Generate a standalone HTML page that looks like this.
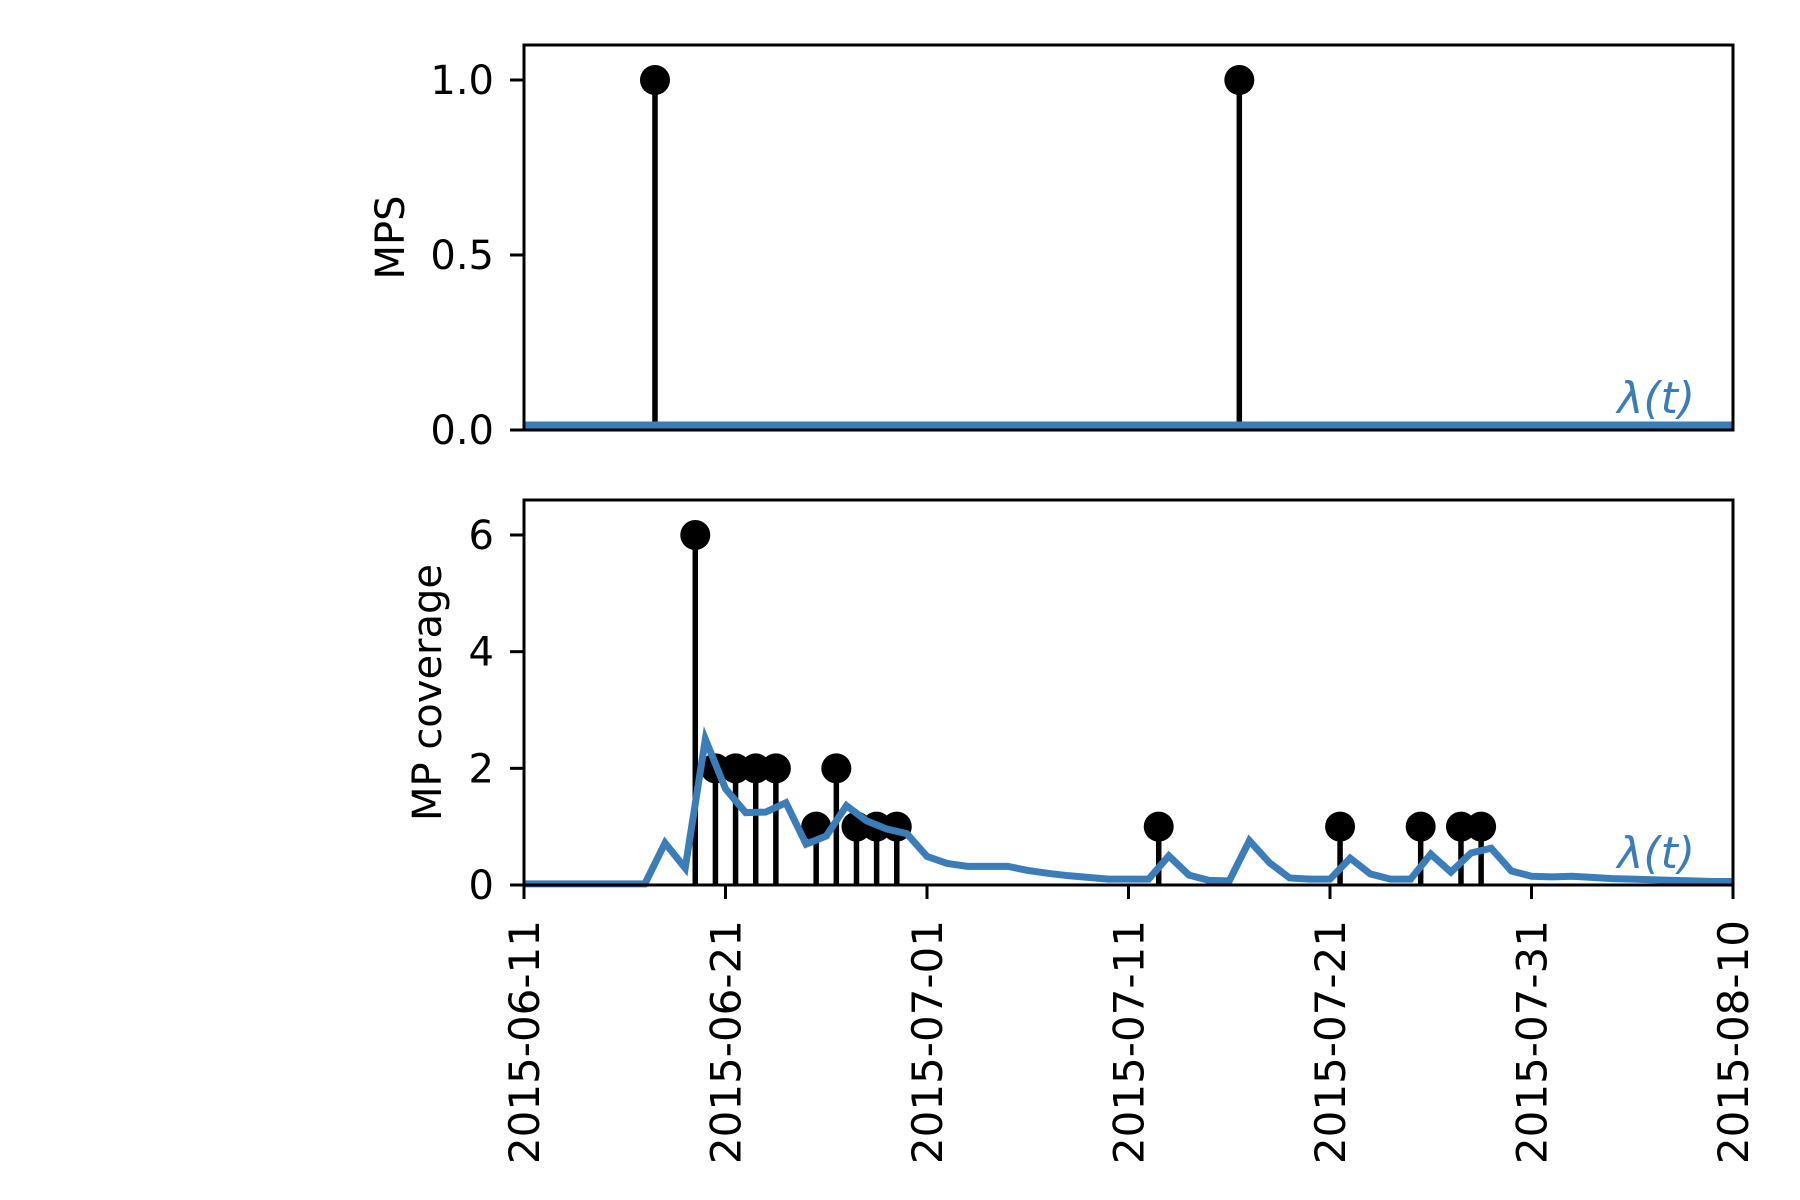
<!DOCTYPE html>
<html><head><meta charset="utf-8"><style>
body{margin:0;background:#fff}
svg{display:block;font-family:"DejaVu Sans","Liberation Sans",sans-serif}
</style></head><body>
<svg id="chart" width="1800" height="1200" viewBox="0 0 1800 1200"></svg>
<script>
const xTickLabels=["2015-06-11","2015-06-21","2015-07-01","2015-07-11","2015-07-21","2015-07-31","2015-08-10"];
const xTickDays=[0,10,20,30,40,50,60];
const mpsDays=[6.5,35.5];
const mpsValues=[1,1];
const covDays=[8.5,9.5,10.5,11.5,12.5,14.5,15.5,16.5,17.5,18.5,31.5,40.5,44.5,46.5,47.5];
const covValues=[6,2,2,2,2,1,2,1,1,1,1,1,1,1,1];
const lamDays=[0,1,2,3,4,5,6,7,8,9,10,11,12,13,14,15,16,17,18,19,20,21,22,23,24,25,26,27,28,29,30,31,32,33,34,35,36,37,38,39,40,41,42,43,44,45,46,47,48,49,50,51,52,53,54,55,56,57,58,59,60];
const lamValues=[0.02,0.02,0.02,0.02,0.02,0.02,0.02,0.72,0.29,2.5,1.65,1.24,1.25,1.41,0.7,0.84,1.36,1.1,0.96,0.88,0.49,0.37,0.32,0.32,0.32,0.25,0.2,0.16,0.13,0.1,0.1,0.1,0.5,0.17,0.08,0.07,0.76,0.38,0.12,0.1,0.1,0.46,0.19,0.1,0.1,0.53,0.22,0.55,0.63,0.24,0.15,0.14,0.15,0.13,0.11,0.1,0.09,0.08,0.07,0.06,0.06];
const mpsTicks=[0,0.5,1];
const mpsTickLabels=["0.0","0.5","1.0"];
const covTicks=[0,2,4,6];
const covTickLabels=["0","2","4","6"];

const NS="http://www.w3.org/2000/svg";
const svg=document.getElementById('chart');
function mk(tag,attrs,parent,text){const e=document.createElementNS(NS,tag);for(const k in attrs)e.setAttribute(k,attrs[k]);if(text!==undefined)e.textContent=text;(parent||svg).appendChild(e);return e;}
const X0=524,X1=1733;
function xs(d){return X0+(X1-X0)*d/60;}
const topP={y0:430,y1:45,max:1.1};
const botP={y0:885,y1:500,max:6.6};
function ys(p,v){return p.y0-(p.y0-p.y1)*v/p.max;}

function panel(p,name,days,vals,ticks,labels,ylabel,lamScale,xticks,ylx){
  const g=mk('g',{});
  
  
  const bl=mk('line',{x1:xs(6),x2:xs(60),y1:p.y0,y2:p.y0,stroke:'#d62728','stroke-width':3},g);
  
  
  days.forEach((d,i)=>{
    const s=mk('line',{x1:xs(d),x2:xs(d),y1:p.y0,y2:ys(p,vals[i]),stroke:'#000','stroke-width':5.5},g);
    
    
  });
  days.forEach((d,i)=>{
    const c=mk('circle',{cx:xs(d),cy:ys(p,vals[i]),r:15,fill:'#000'},g);
    
    
  });
  let pts=lamDays.map((d,i)=>xs(d)+','+(lamScale?ys(p,lamValues[i]):p.y0-4)).join(' ');
  const pl=mk('polyline',{points:pts,fill:'none',stroke:'#3a7db8','stroke-width':lamScale?7:9,'stroke-linejoin':'miter'},g);
  
  
  const lt=mk('text',{x:1695,y:p.y0-17,'text-anchor':'end','font-size':44,fill:'#3a7db8','font-style':'italic'},g,'λ(t)');
  
  
  const fr=mk('rect',{x:X0,y:p.y1,width:X1-X0,height:p.y0-p.y1,fill:'none',stroke:'#000','stroke-width':3},g);
  
  
  ticks.forEach((t,i)=>{
    const y=ys(p,t);
    const tl=mk('line',{x1:X0-14,x2:X0,y1:y,y2:y,stroke:'#000','stroke-width':3},g);
    
    
    const tx=mk('text',{x:X0-30,y:y+14,'text-anchor':'end','font-size':40},g,labels[i]);
    
    
  });
  const yc=(p.y0+p.y1)/2;
  const yl=mk('text',{x:0,y:0,'text-anchor':'middle','font-size':40,transform:`translate(${ylx},${yc}) rotate(-90)`},g,ylabel);
  
  
  if(xticks){
    xTickDays.forEach((d,i)=>{
      const tl=mk('line',{x1:xs(d),x2:xs(d),y1:p.y0,y2:p.y0+14,stroke:'#000','stroke-width':3},g);
      
      
    });
  }
}
panel(topP,'mps',mpsDays,mpsValues,mpsTicks,mpsTickLabels,'MPS',false,false,404);
panel(botP,'coverage',covDays,covValues,covTicks,covTickLabels,'MP coverage',true,true,441);
xTickDays.forEach((d,i)=>{
  const t=mk('text',{x:0,y:0,'text-anchor':'end','font-size':42,transform:`translate(${xs(d)+15},${botP.y0+35}) rotate(-90)`},svg,xTickLabels[i]);
  
  
});
</script>
</body></html>
